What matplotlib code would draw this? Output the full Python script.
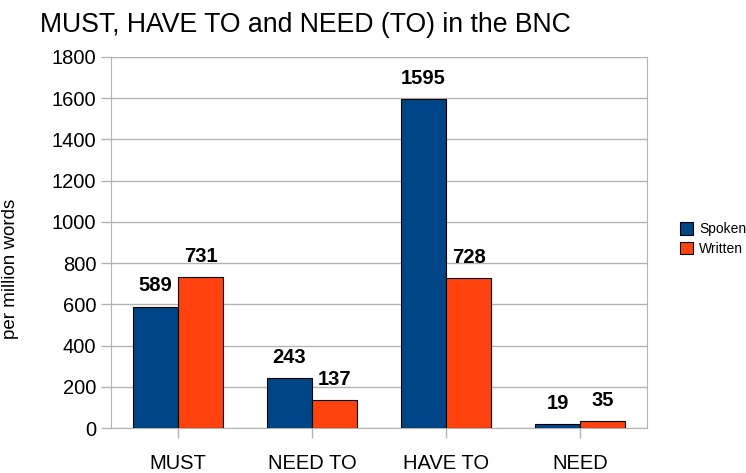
import matplotlib.pyplot as plt
import numpy as np

plt.rcParams['font.family'] = ['Liberation Sans', 'DejaVu Sans']

categories = ['MUST', 'NEED TO', 'HAVE TO', 'NEED']
spoken = [589, 243, 1595, 19]
written = [731, 137, 728, 35]

W, H = 746, 473
fig = plt.figure(figsize=(W / 100, H / 100), dpi=100)
ax = fig.add_axes([111 / W, 45 / H, 536 / W, 371 / H])

x = np.arange(len(categories))
bw = 0.336
b1 = ax.bar(x - bw / 2, spoken, bw, color='#004586', edgecolor='black', linewidth=0.8, label='Spoken', zorder=3)
b2 = ax.bar(x + bw / 2, written, bw, color='#ff420e', edgecolor='black', linewidth=0.8, label='Written', zorder=3)

# value labels above each bar
for bars, vals in ((b1, spoken), (b2, written)):
    for b, v in zip(bars, vals):
        ax.annotate(str(v), (b.get_x() + b.get_width() / 2, v), xytext=(0, 8),
                    textcoords='offset points', ha='center', va='bottom',
                    fontsize=14.5, fontweight='bold')

ax.set_xlim(-0.5, len(categories) - 0.5)
ax.set_ylim(0, 1800)
ax.set_yticks(range(0, 1801, 200))
ax.set_xticks(x)
ax.set_xticklabels(categories)
ax.grid(axis='y', color='#b3b3b3', linewidth=1, zorder=0)
for s in ax.spines.values():
    s.set_color('#b3b3b3')
ax.tick_params(axis='both', colors='#b3b3b3', labelcolor='black', labelsize=14.5, length=7, width=1)
ax.tick_params(axis='x', pad=12)
ax.set_ylabel('per million words', fontsize=13.5)
ax.yaxis.set_label_coords(-92 / 536, 0.43)

fig.text(40 / W, 1 - 25 / H, 'MUST, HAVE TO and NEED (TO) in the BNC', fontsize=19.2, va='center', ha='left')

fig.legend(handles=[b1, b2], loc='center left', bbox_to_anchor=(667 / W, 1 - 239 / H),
           frameon=False, fontsize=10, handlelength=1.0, handleheight=1.0,
           handletextpad=0.4, labelspacing=0.4)

fig.savefig('out.png', dpi=100)
